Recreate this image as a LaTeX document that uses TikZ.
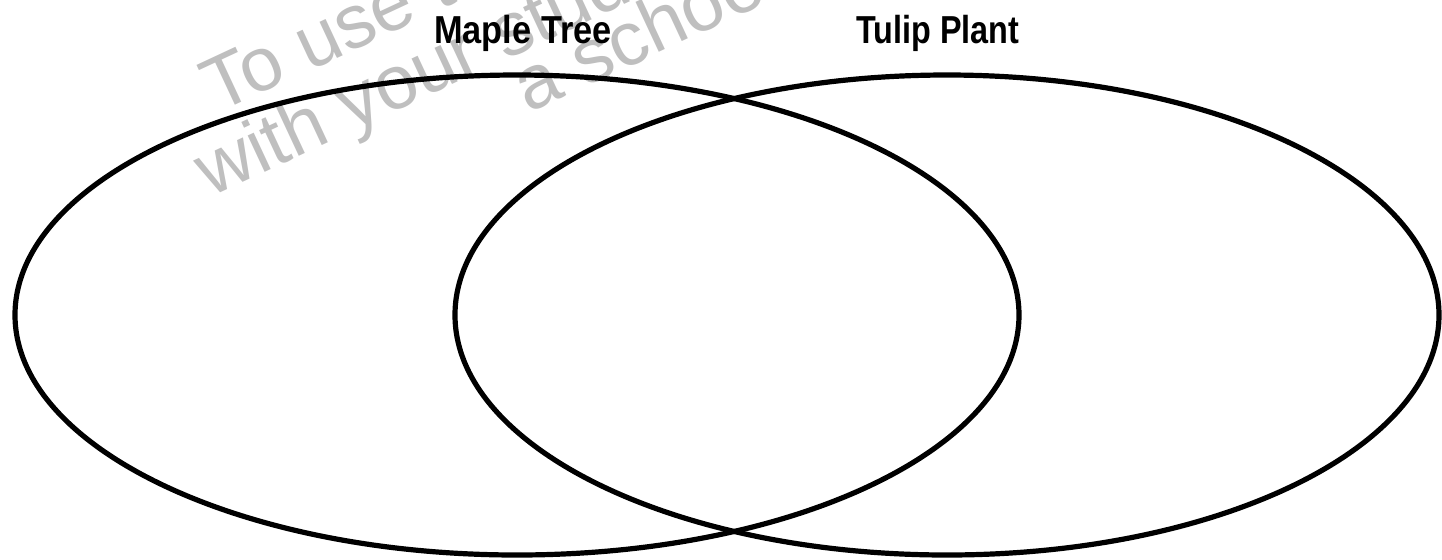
\documentclass[tikz,border=0pt]{standalone}
\usepackage{fontspec}
\setmainfont{Liberation Sans}
\begin{document}
\begin{tikzpicture}[x=0.5pt,y=-0.5pt,
  ring/.style={line width=2.6pt, draw=black},
  title/.style={font=\bfseries\fontsize{19.5}{23}\selectfont, inner sep=0pt, anchor=base},
  wmark/.style={font=\fontsize{38}{44}\selectfont, text=black!25, inner sep=0pt, anchor=base west, rotate=25}]
\useasboundingbox (0,0) rectangle (1442,559);
\clip (0,0) rectangle (1442,559);
% watermark
\node[wmark] (w1) at (217,114) {To use this};
\node[wmark] (w2) at (210,198) {with your students};
\node[wmark] (w3) at (528,114) {a school};
% circles
\draw[ring] (517,315) ellipse [x radius=251pt, y radius=120pt];
\draw[ring] (947,315) ellipse [x radius=246pt, y radius=120pt];
% labels
\node[title, xscale=0.88] (maple) at (523,43) {Maple Tree};
\node[title, xscale=0.83] (tulip) at (938,43) {Tulip Plant};
\end{tikzpicture}
\end{document}
